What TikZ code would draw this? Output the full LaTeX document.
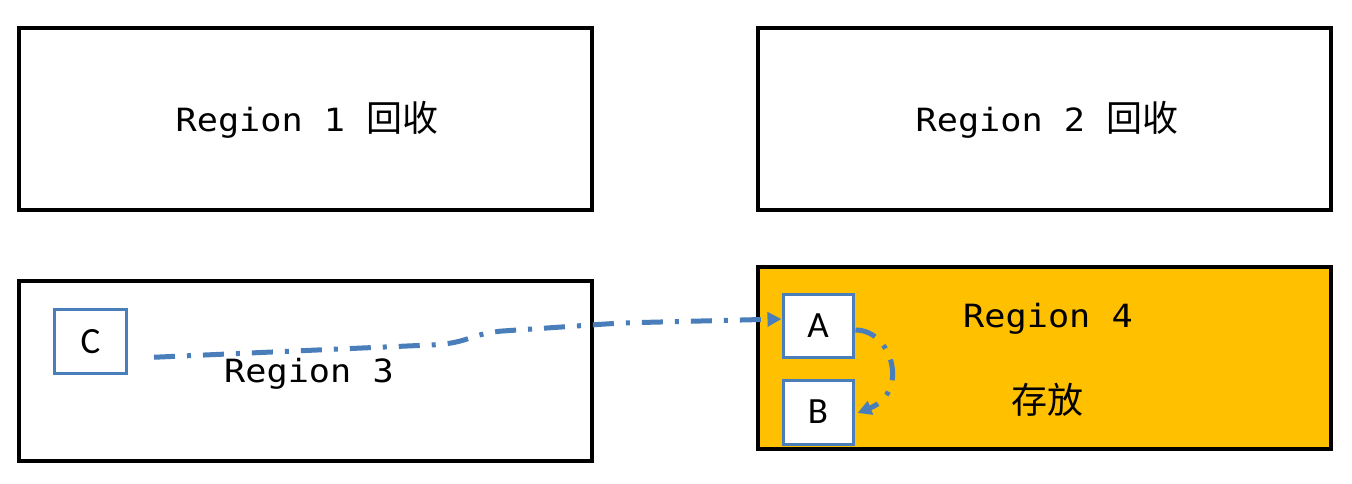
\documentclass[tikz,border=0pt]{standalone}
\usepackage{fontspec}
\usetikzlibrary{arrows.meta}
\newfontfamily\monofnt[FakeStretch=1.1]{DejaVu Sans Mono}
\newfontfamily\cjkfnt{Noto Sans CJK SC}
\newfontfamily\letterfnt{Carlito}
\definecolor{boxblue}{HTML}{4A7EBB}
\definecolor{regorange}{HTML}{FFC000}
\newcommand{\cjktext}[1]{{\cjkfnt\fontsize{36}{40}\selectfont #1}}
\begin{document}
\begin{tikzpicture}[x=1pt,y=-1pt,
  region/.style={draw=black, line width=4pt, minimum width=573pt, minimum height=182pt, inner sep=0pt},
  itembox/.style={draw=boxblue, line width=3pt, fill=white, minimum width=70pt, minimum height=63pt, inner sep=0pt, font=\letterfnt\fontsize{37}{40}\selectfont},
  regionlabel/.style={anchor=base, inner sep=0pt, font=\monofnt\fontsize{32}{36}\selectfont},
  cjklabel/.style={anchor=base, inner sep=0pt, font=\cjkfnt\fontsize{36}{40}\selectfont},
  flow/.style={draw=boxblue, line width=5pt, dash pattern=on 21pt off 12pt on 4pt off 12pt, -{Triangle[length=14pt,width=14pt]}}
]
\useasboundingbox (0,0) rectangle (1352,483);
\fill[white] (0,0) rectangle (1352,483);

% region boxes
\node[region] (r1) at (305,118.5) {};
\node[region] (r2) at (1044,118.5) {};
\node[region, minimum height=180pt] (r3) at (305,370.5) {};
\node[region, fill=regorange, minimum height=182.5pt] (r4) at (1044,357.75) {};

% labels
\node[regionlabel] (l1) at (307,131) {Region 1 \cjktext{回收}};
\node[regionlabel] (l2) at (1047,131) {Region 2 \cjktext{回收}};
\node[regionlabel] (l3) at (309,382) {Region 3};
\node[regionlabel] (l4) at (1048,327) {Region 4};
\node[cjklabel] (l5) at (1047,413) {存放};

% item boxes
\node[itembox, minimum width=72pt, minimum height=63.5pt] (C) at (90.5,341.25) {C};
\node[itembox] (A) at (818,325.5) {A};
\node[itembox, minimum height=64pt] (B) at (818,412) {B};

% connectors
\draw[flow, rounded corners=14pt] ([xshift=26pt,yshift=-16pt]C.east) -- (452,344) -- (488,332) -- (620,323) -- ([yshift=6.5pt]A.west);
\draw[flow] ([xshift=1pt,yshift=-4.5pt]A.east) .. controls (892,330) and (910,392) .. ([xshift=3pt,yshift=-1pt]B.east);
\end{tikzpicture}
\end{document}
